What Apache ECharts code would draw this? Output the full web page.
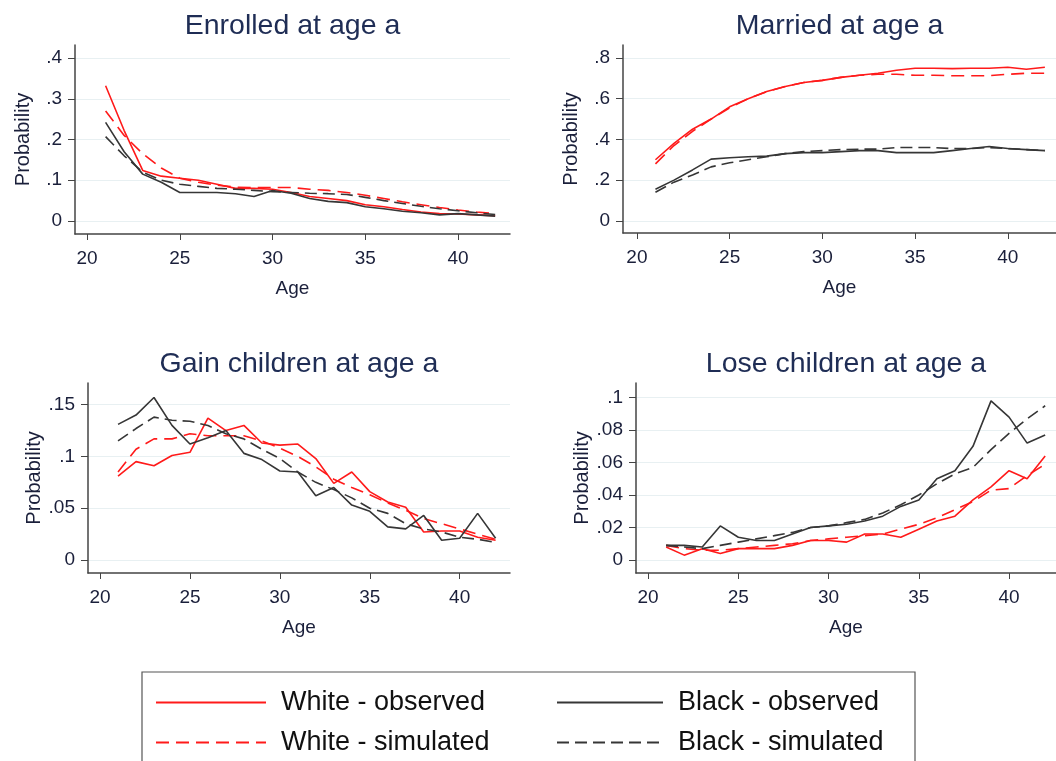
<!DOCTYPE html>
<html>
<head>
<meta charset="utf-8">
<title>Probabilities by age</title>
<script src="https://cdn.jsdelivr.net/npm/echarts@6/dist/echarts.min.js"></script>
<style>
  html, body { margin: 0; padding: 0; background: #fff; }
  #chart { width: 1056px; height: 761px; }
</style>
</head>
<body>
<div id="chart"></div>
<script>
// ages on the x axis
const ages = [21, 22, 23, 24, 25, 26, 27, 28, 29, 30, 31, 32, 33, 34, 35, 36, 37, 38, 39, 40, 41, 42];
const ageTicks = [20, 25, 30, 35, 40];

// Enrolled at age a
const enrolledWhiteObs = [0.332, 0.222, 0.124, 0.110, 0.105, 0.100, 0.090, 0.080, 0.080, 0.078, 0.070, 0.060, 0.055, 0.050, 0.040, 0.035, 0.028, 0.022, 0.018, 0.017, 0.015, 0.013];
const enrolledWhiteSim = [0.270, 0.210, 0.165, 0.130, 0.105, 0.095, 0.088, 0.083, 0.082, 0.082, 0.082, 0.078, 0.075, 0.070, 0.063, 0.055, 0.047, 0.040, 0.033, 0.027, 0.022, 0.018];
const enrolledBlackObs = [0.242, 0.170, 0.115, 0.095, 0.070, 0.070, 0.070, 0.067, 0.060, 0.075, 0.068, 0.055, 0.048, 0.045, 0.035, 0.030, 0.024, 0.020, 0.015, 0.018, 0.015, 0.012];
const enrolledBlackSim = [0.207, 0.160, 0.120, 0.100, 0.090, 0.085, 0.080, 0.078, 0.075, 0.072, 0.070, 0.068, 0.067, 0.065, 0.058, 0.050, 0.043, 0.036, 0.030, 0.025, 0.020, 0.016];
const enrolledTicks = [0, 0.1, 0.2, 0.3, 0.4];

// Married at age a
const marriedWhiteObs = [0.300, 0.380, 0.450, 0.500, 0.560, 0.600, 0.635, 0.660, 0.680, 0.690, 0.705, 0.715, 0.725, 0.740, 0.750, 0.750, 0.748, 0.750, 0.750, 0.755, 0.745, 0.755];
const marriedWhiteSim = [0.280, 0.370, 0.440, 0.500, 0.555, 0.600, 0.635, 0.660, 0.680, 0.690, 0.705, 0.715, 0.720, 0.720, 0.715, 0.715, 0.713, 0.713, 0.713, 0.720, 0.725, 0.725];
const marriedBlackObs = [0.155, 0.200, 0.250, 0.303, 0.310, 0.315, 0.318, 0.330, 0.335, 0.335, 0.340, 0.345, 0.345, 0.335, 0.335, 0.335, 0.345, 0.355, 0.365, 0.355, 0.350, 0.345];
const marriedBlackSim = [0.140, 0.190, 0.225, 0.265, 0.285, 0.300, 0.315, 0.330, 0.340, 0.345, 0.350, 0.352, 0.352, 0.360, 0.360, 0.360, 0.355, 0.355, 0.360, 0.355, 0.350, 0.345];
const marriedTicks = [0, 0.2, 0.4, 0.6, 0.8];

// Gain children at age a
const gainWhiteObs = [0.081, 0.095, 0.091, 0.101, 0.104, 0.137, 0.125, 0.130, 0.113, 0.111, 0.112, 0.098, 0.074, 0.085, 0.066, 0.056, 0.051, 0.027, 0.028, 0.028, 0.022, 0.019];
const gainWhiteSim = [0.085, 0.107, 0.117, 0.117, 0.122, 0.120, 0.120, 0.120, 0.115, 0.108, 0.100, 0.090, 0.078, 0.070, 0.063, 0.055, 0.048, 0.040, 0.035, 0.030, 0.025, 0.020];
const gainBlackObs = [0.131, 0.140, 0.157, 0.130, 0.112, 0.118, 0.125, 0.103, 0.097, 0.086, 0.085, 0.062, 0.070, 0.053, 0.047, 0.032, 0.030, 0.043, 0.019, 0.021, 0.045, 0.021];
const gainBlackSim = [0.115, 0.127, 0.138, 0.135, 0.134, 0.130, 0.122, 0.117, 0.107, 0.098, 0.085, 0.075, 0.068, 0.060, 0.050, 0.045, 0.035, 0.030, 0.027, 0.022, 0.020, 0.017];
const gainTicks = [0, 0.05, 0.1, 0.15];

// Lose children at age a
const loseWhiteObs = [0.008, 0.003, 0.007, 0.004, 0.007, 0.007, 0.007, 0.009, 0.012, 0.012, 0.011, 0.016, 0.016, 0.014, 0.019, 0.024, 0.027, 0.037, 0.045, 0.055, 0.050, 0.064];
const loseWhiteSim = [0.009, 0.007, 0.006, 0.006, 0.007, 0.008, 0.009, 0.010, 0.012, 0.013, 0.014, 0.015, 0.016, 0.019, 0.022, 0.026, 0.031, 0.036, 0.043, 0.044, 0.052, 0.059];
const loseBlackObs = [0.009, 0.009, 0.008, 0.021, 0.014, 0.012, 0.012, 0.016, 0.020, 0.021, 0.022, 0.024, 0.027, 0.033, 0.037, 0.050, 0.055, 0.070, 0.098, 0.088, 0.072, 0.077];
const loseBlackSim = [0.009, 0.008, 0.007, 0.009, 0.011, 0.013, 0.015, 0.017, 0.020, 0.021, 0.023, 0.025, 0.029, 0.034, 0.040, 0.047, 0.053, 0.057, 0.068, 0.078, 0.087, 0.095];
const loseTicks = [0, 0.02, 0.04, 0.06, 0.08, 0.1];

const seriesNames = ['White - observed', 'White - simulated', 'Black - observed', 'Black - simulated'];

const RED = '#ff1a1a';
const DARK = '#363636';
const TITLE_COLOR = '#1f2d55';
const LABEL_COLOR = '#1a1f3a';
const FONT = '"Liberation Sans", Arial, Helvetica, sans-serif';

const lineStyles = [
  { color: RED, width: 1.6, type: 'solid' },
  { color: RED, width: 1.6, type: [13, 7] },
  { color: DARK, width: 1.6, type: 'solid' },
  { color: DARK, width: 1.6, type: [12, 6] },
];

const panels = [
  { title: 'Enrolled at age a', data: [enrolledWhiteObs, enrolledWhiteSim, enrolledBlackObs, enrolledBlackSim],
    ticks: enrolledTicks, ymin: -0.032, ymax: 0.432, xmin: 19.35, xmax: 42.8,
    grid: { left: 75, top: 45, width: 435, height: 189 } },
  { title: 'Married at age a', data: [marriedWhiteObs, marriedWhiteSim, marriedBlackObs, marriedBlackSim],
    ticks: marriedTicks, ymin: -0.06, ymax: 0.864, xmin: 19.25, xmax: 42.6,
    grid: { left: 623, top: 45, width: 433, height: 188 } },
  { title: 'Gain children at age a', data: [gainWhiteObs, gainWhiteSim, gainBlackObs, gainBlackSim],
    ticks: gainTicks, ymin: -0.0126, ymax: 0.171, xmin: 19.33, xmax: 42.8,
    grid: { left: 88, top: 383, width: 422, height: 190 } },
  { title: 'Lose children at age a', data: [loseWhiteObs, loseWhiteSim, loseBlackObs, loseBlackSim],
    ticks: loseTicks, ymin: -0.008, ymax: 0.109, xmin: 19.33, xmax: 42.6,
    grid: { left: 636, top: 383, width: 420, height: 190 } },
];

function fmtProb(v) {
  return v === 0 ? '0' : String(v).replace(/^0\./, '.');
}

const titles = [];
const grids = [];
const xAxes = [];
const yAxes = [];
const series = [];

panels.forEach((p, i) => {
  grids.push(Object.assign({ containLabel: false }, p.grid));
  titles.push({
    text: p.title,
    left: p.grid.left + p.grid.width / 2,
    top: p.grid.top - 33,
    padding: 0,
    textAlign: 'center',
    textStyle: { fontFamily: FONT, fontSize: 28.5, fontWeight: 'normal', color: TITLE_COLOR },
  });
  xAxes.push({
    gridIndex: i, type: 'value', min: p.xmin, max: p.xmax,
    name: 'Age', nameLocation: 'middle', nameGap: 45,
    nameTextStyle: { fontFamily: FONT, fontSize: 19, color: LABEL_COLOR },
    axisLine: { show: true, onZero: false, lineStyle: { color: '#444', width: 1.5 } },
    axisTick: { show: true, length: 6, customValues: ageTicks, lineStyle: { color: '#444' } },
    axisLabel: { customValues: ageTicks, margin: 15, fontFamily: FONT, fontSize: 19, color: LABEL_COLOR },
    splitLine: { show: false },
  });
  yAxes.push({
    gridIndex: i, type: 'value', min: p.ymin, max: p.ymax,
    name: 'Probability', nameLocation: 'middle', nameGap: 42, nameRotate: 90,
    nameTextStyle: { fontFamily: FONT, fontSize: 20, color: LABEL_COLOR },
    axisLine: { show: true, onZero: false, lineStyle: { color: '#444', width: 1.5 } },
    axisTick: { show: true, length: 7, customValues: p.ticks, lineStyle: { color: '#444' } },
    axisLabel: { customValues: p.ticks, margin: 13, fontFamily: FONT, fontSize: 19, color: LABEL_COLOR, formatter: fmtProb },
    splitLine: { show: true, lineStyle: { color: '#e8f0f2', width: 1 } },
  });
  p.data.forEach((vals, k) => {
    series.push({
      name: seriesNames[k], type: 'line', xAxisIndex: i, yAxisIndex: i,
      data: ages.map((a, j) => [a, vals[j]]),
      symbol: 'none', silent: true, animation: false,
      lineStyle: lineStyles[k],
    });
  });
});

// legend: white column, black column
const legendPos = [
  { left: 155, top: 689, width: 110 },
  { left: 155, top: 729, width: 110 },
  { left: 556, top: 689, width: 106 },
  { left: 556, top: 729, width: 106 },
];
const legends = seriesNames.map((n, k) => ({
  data: [n], left: legendPos[k].left, top: legendPos[k].top,
  padding: 0, itemWidth: legendPos[k].width, itemHeight: 14, selectedMode: false,
  itemStyle: { opacity: 0 },
  textStyle: { fontFamily: FONT, fontSize: 27, color: '#111', padding: [0, 0, 0, 10] },
}));

const chart = echarts.init(document.getElementById('chart'), null, { renderer: 'canvas' });
chart.setOption({
  backgroundColor: '#fff',
  animation: false,
  title: titles,
  grid: grids,
  xAxis: xAxes,
  yAxis: yAxes,
  legend: legends,
  series: series,
  graphic: [{
    type: 'rect', silent: true,
    shape: { x: 142, y: 672, width: 773, height: 100 },
    style: { fill: 'none', stroke: '#555', lineWidth: 1.2 },
  }],
});
</script>
</body>
</html>
